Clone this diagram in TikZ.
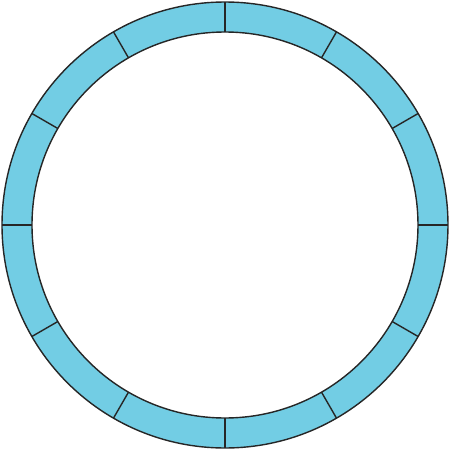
\documentclass[tikz,border=0pt]{standalone}
\usepackage{tikz}
\definecolor{ringblue}{HTML}{72CDE4}

\begin{document}
\begin{tikzpicture}[ring/.style={fill=ringblue,draw=black!85,line width=0.8pt,even odd rule}]
\useasboundingbox (-4.5,-4.5) rectangle (4.5,4.5);
\path[ring] (0,0) circle (4.46) (0,0) circle (3.86);
\foreach \a in {0,30,...,330}
\draw[black!85,line width=0.8pt] (\a:3.86) -- (\a:4.46);
\end{tikzpicture}
\end{document}
